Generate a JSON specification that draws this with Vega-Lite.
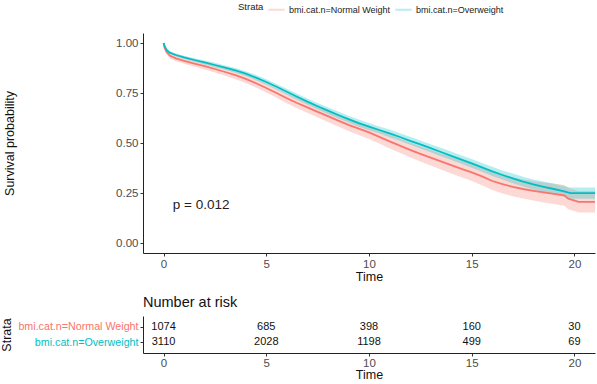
{
  "$schema": "https://vega.github.io/schema/vega-lite/v6.json",
  "padding": 0,
  "background": "white",
  "config": {
    "font": "Liberation Sans",
    "view": {"stroke": null},
    "axis": {
      "grid": false,
      "domainColor": "#222222",
      "domainWidth": 1,
      "tickColor": "#333333",
      "tickSize": 3,
      "labelPadding": 2,
      "labelColor": "#4d4d4d",
      "labelFontSize": 11.5,
      "labelFont": "Liberation Sans",
      "titleFont": "Liberation Sans",
      "titleFontSize": 12.5,
      "titleFontWeight": "normal",
      "titleColor": "#111111"
    }
  },
  "datasets": {
    "km": [
      {"strata": "bmi.cat.n=Normal Weight", "t": 0, "s": 1.0, "lo": 1.0, "hi": 1.0},
      {"strata": "bmi.cat.n=Normal Weight", "t": 0.05, "s": 0.975, "lo": 0.966, "hi": 0.984},
      {"strata": "bmi.cat.n=Normal Weight", "t": 0.15, "s": 0.955, "lo": 0.944, "hi": 0.966},
      {"strata": "bmi.cat.n=Normal Weight", "t": 0.3, "s": 0.937, "lo": 0.924, "hi": 0.95},
      {"strata": "bmi.cat.n=Normal Weight", "t": 0.6, "s": 0.923, "lo": 0.909, "hi": 0.937},
      {"strata": "bmi.cat.n=Normal Weight", "t": 1.0, "s": 0.911, "lo": 0.896, "hi": 0.926},
      {"strata": "bmi.cat.n=Normal Weight", "t": 1.5, "s": 0.897, "lo": 0.881, "hi": 0.913},
      {"strata": "bmi.cat.n=Normal Weight", "t": 2.0, "s": 0.884, "lo": 0.867, "hi": 0.901},
      {"strata": "bmi.cat.n=Normal Weight", "t": 2.5, "s": 0.87, "lo": 0.852, "hi": 0.888},
      {"strata": "bmi.cat.n=Normal Weight", "t": 3.0, "s": 0.855, "lo": 0.836, "hi": 0.874},
      {"strata": "bmi.cat.n=Normal Weight", "t": 3.5, "s": 0.839, "lo": 0.819, "hi": 0.859},
      {"strata": "bmi.cat.n=Normal Weight", "t": 4.0, "s": 0.821, "lo": 0.8, "hi": 0.842},
      {"strata": "bmi.cat.n=Normal Weight", "t": 4.5, "s": 0.799, "lo": 0.777, "hi": 0.821},
      {"strata": "bmi.cat.n=Normal Weight", "t": 5.0, "s": 0.775, "lo": 0.752, "hi": 0.798},
      {"strata": "bmi.cat.n=Normal Weight", "t": 5.5, "s": 0.75, "lo": 0.726, "hi": 0.774},
      {"strata": "bmi.cat.n=Normal Weight", "t": 6.0, "s": 0.724, "lo": 0.699, "hi": 0.749},
      {"strata": "bmi.cat.n=Normal Weight", "t": 6.5, "s": 0.7, "lo": 0.674, "hi": 0.726},
      {"strata": "bmi.cat.n=Normal Weight", "t": 7.0, "s": 0.678, "lo": 0.651, "hi": 0.705},
      {"strata": "bmi.cat.n=Normal Weight", "t": 7.5, "s": 0.656, "lo": 0.628, "hi": 0.684},
      {"strata": "bmi.cat.n=Normal Weight", "t": 8.0, "s": 0.634, "lo": 0.605, "hi": 0.663},
      {"strata": "bmi.cat.n=Normal Weight", "t": 8.5, "s": 0.612, "lo": 0.582, "hi": 0.642},
      {"strata": "bmi.cat.n=Normal Weight", "t": 9.0, "s": 0.591, "lo": 0.56, "hi": 0.622},
      {"strata": "bmi.cat.n=Normal Weight", "t": 9.5, "s": 0.572, "lo": 0.54, "hi": 0.604},
      {"strata": "bmi.cat.n=Normal Weight", "t": 10.0, "s": 0.553, "lo": 0.52, "hi": 0.586},
      {"strata": "bmi.cat.n=Normal Weight", "t": 10.5, "s": 0.531, "lo": 0.497, "hi": 0.565},
      {"strata": "bmi.cat.n=Normal Weight", "t": 11.0, "s": 0.508, "lo": 0.473, "hi": 0.543},
      {"strata": "bmi.cat.n=Normal Weight", "t": 11.5, "s": 0.487, "lo": 0.451, "hi": 0.523},
      {"strata": "bmi.cat.n=Normal Weight", "t": 12.0, "s": 0.466, "lo": 0.429, "hi": 0.503},
      {"strata": "bmi.cat.n=Normal Weight", "t": 12.5, "s": 0.446, "lo": 0.408, "hi": 0.484},
      {"strata": "bmi.cat.n=Normal Weight", "t": 13.0, "s": 0.427, "lo": 0.388, "hi": 0.466},
      {"strata": "bmi.cat.n=Normal Weight", "t": 13.5, "s": 0.408, "lo": 0.368, "hi": 0.448},
      {"strata": "bmi.cat.n=Normal Weight", "t": 14.0, "s": 0.389, "lo": 0.348, "hi": 0.43},
      {"strata": "bmi.cat.n=Normal Weight", "t": 14.5, "s": 0.371, "lo": 0.329, "hi": 0.413},
      {"strata": "bmi.cat.n=Normal Weight", "t": 15.0, "s": 0.353, "lo": 0.31, "hi": 0.396},
      {"strata": "bmi.cat.n=Normal Weight", "t": 15.5, "s": 0.333, "lo": 0.289, "hi": 0.377},
      {"strata": "bmi.cat.n=Normal Weight", "t": 16.0, "s": 0.31, "lo": 0.265, "hi": 0.355},
      {"strata": "bmi.cat.n=Normal Weight", "t": 16.5, "s": 0.294, "lo": 0.248, "hi": 0.34},
      {"strata": "bmi.cat.n=Normal Weight", "t": 17.0, "s": 0.281, "lo": 0.234, "hi": 0.328},
      {"strata": "bmi.cat.n=Normal Weight", "t": 17.5, "s": 0.27, "lo": 0.222, "hi": 0.318},
      {"strata": "bmi.cat.n=Normal Weight", "t": 18.0, "s": 0.261, "lo": 0.212, "hi": 0.31},
      {"strata": "bmi.cat.n=Normal Weight", "t": 18.5, "s": 0.253, "lo": 0.203, "hi": 0.303},
      {"strata": "bmi.cat.n=Normal Weight", "t": 19.0, "s": 0.246, "lo": 0.195, "hi": 0.297},
      {"strata": "bmi.cat.n=Normal Weight", "t": 19.5, "s": 0.238, "lo": 0.186, "hi": 0.29},
      {"strata": "bmi.cat.n=Normal Weight", "t": 19.7, "s": 0.222, "lo": 0.169, "hi": 0.275},
      {"strata": "bmi.cat.n=Normal Weight", "t": 20.2, "s": 0.206, "lo": 0.152, "hi": 0.26},
      {"strata": "bmi.cat.n=Normal Weight", "t": 21.0, "s": 0.206, "lo": 0.152, "hi": 0.26},
      {"strata": "bmi.cat.n=Overweight", "t": 0, "s": 1.0, "lo": 1.0, "hi": 1.0},
      {"strata": "bmi.cat.n=Overweight", "t": 0.05, "s": 0.985, "lo": 0.981, "hi": 0.989},
      {"strata": "bmi.cat.n=Overweight", "t": 0.15, "s": 0.965, "lo": 0.96, "hi": 0.97},
      {"strata": "bmi.cat.n=Overweight", "t": 0.3, "s": 0.952, "lo": 0.946, "hi": 0.958},
      {"strata": "bmi.cat.n=Overweight", "t": 0.6, "s": 0.94, "lo": 0.933, "hi": 0.947},
      {"strata": "bmi.cat.n=Overweight", "t": 1.0, "s": 0.928, "lo": 0.92, "hi": 0.936},
      {"strata": "bmi.cat.n=Overweight", "t": 1.5, "s": 0.915, "lo": 0.906, "hi": 0.924},
      {"strata": "bmi.cat.n=Overweight", "t": 2.0, "s": 0.903, "lo": 0.893, "hi": 0.913},
      {"strata": "bmi.cat.n=Overweight", "t": 2.5, "s": 0.89, "lo": 0.879, "hi": 0.901},
      {"strata": "bmi.cat.n=Overweight", "t": 3.0, "s": 0.877, "lo": 0.866, "hi": 0.888},
      {"strata": "bmi.cat.n=Overweight", "t": 3.5, "s": 0.863, "lo": 0.851, "hi": 0.875},
      {"strata": "bmi.cat.n=Overweight", "t": 4.0, "s": 0.847, "lo": 0.835, "hi": 0.859},
      {"strata": "bmi.cat.n=Overweight", "t": 4.5, "s": 0.827, "lo": 0.814, "hi": 0.84},
      {"strata": "bmi.cat.n=Overweight", "t": 5.0, "s": 0.805, "lo": 0.791, "hi": 0.819},
      {"strata": "bmi.cat.n=Overweight", "t": 5.5, "s": 0.781, "lo": 0.767, "hi": 0.795},
      {"strata": "bmi.cat.n=Overweight", "t": 6.0, "s": 0.756, "lo": 0.741, "hi": 0.771},
      {"strata": "bmi.cat.n=Overweight", "t": 6.5, "s": 0.731, "lo": 0.716, "hi": 0.746},
      {"strata": "bmi.cat.n=Overweight", "t": 7.0, "s": 0.707, "lo": 0.691, "hi": 0.723},
      {"strata": "bmi.cat.n=Overweight", "t": 7.5, "s": 0.684, "lo": 0.668, "hi": 0.7},
      {"strata": "bmi.cat.n=Overweight", "t": 8.0, "s": 0.662, "lo": 0.645, "hi": 0.679},
      {"strata": "bmi.cat.n=Overweight", "t": 8.5, "s": 0.64, "lo": 0.623, "hi": 0.657},
      {"strata": "bmi.cat.n=Overweight", "t": 9.0, "s": 0.619, "lo": 0.602, "hi": 0.636},
      {"strata": "bmi.cat.n=Overweight", "t": 9.5, "s": 0.599, "lo": 0.581, "hi": 0.617},
      {"strata": "bmi.cat.n=Overweight", "t": 10.0, "s": 0.582, "lo": 0.564, "hi": 0.6},
      {"strata": "bmi.cat.n=Overweight", "t": 10.5, "s": 0.565, "lo": 0.547, "hi": 0.583},
      {"strata": "bmi.cat.n=Overweight", "t": 11.0, "s": 0.548, "lo": 0.529, "hi": 0.567},
      {"strata": "bmi.cat.n=Overweight", "t": 11.5, "s": 0.53, "lo": 0.511, "hi": 0.549},
      {"strata": "bmi.cat.n=Overweight", "t": 12.0, "s": 0.511, "lo": 0.491, "hi": 0.531},
      {"strata": "bmi.cat.n=Overweight", "t": 12.5, "s": 0.493, "lo": 0.473, "hi": 0.513},
      {"strata": "bmi.cat.n=Overweight", "t": 13.0, "s": 0.474, "lo": 0.454, "hi": 0.494},
      {"strata": "bmi.cat.n=Overweight", "t": 13.5, "s": 0.455, "lo": 0.434, "hi": 0.476},
      {"strata": "bmi.cat.n=Overweight", "t": 14.0, "s": 0.436, "lo": 0.415, "hi": 0.457},
      {"strata": "bmi.cat.n=Overweight", "t": 14.5, "s": 0.417, "lo": 0.396, "hi": 0.438},
      {"strata": "bmi.cat.n=Overweight", "t": 15.0, "s": 0.398, "lo": 0.376, "hi": 0.42},
      {"strata": "bmi.cat.n=Overweight", "t": 15.5, "s": 0.378, "lo": 0.356, "hi": 0.4},
      {"strata": "bmi.cat.n=Overweight", "t": 16.0, "s": 0.358, "lo": 0.335, "hi": 0.381},
      {"strata": "bmi.cat.n=Overweight", "t": 16.5, "s": 0.34, "lo": 0.317, "hi": 0.363},
      {"strata": "bmi.cat.n=Overweight", "t": 17.0, "s": 0.323, "lo": 0.299, "hi": 0.347},
      {"strata": "bmi.cat.n=Overweight", "t": 17.5, "s": 0.307, "lo": 0.283, "hi": 0.331},
      {"strata": "bmi.cat.n=Overweight", "t": 18.0, "s": 0.293, "lo": 0.268, "hi": 0.318},
      {"strata": "bmi.cat.n=Overweight", "t": 18.5, "s": 0.281, "lo": 0.255, "hi": 0.307},
      {"strata": "bmi.cat.n=Overweight", "t": 19.0, "s": 0.27, "lo": 0.244, "hi": 0.296},
      {"strata": "bmi.cat.n=Overweight", "t": 19.5, "s": 0.258, "lo": 0.231, "hi": 0.285},
      {"strata": "bmi.cat.n=Overweight", "t": 19.8, "s": 0.249, "lo": 0.221, "hi": 0.277},
      {"strata": "bmi.cat.n=Overweight", "t": 21.0, "s": 0.249, "lo": 0.221, "hi": 0.277}
    ],
    "risk": [
      {"strata": "bmi.cat.n=Normal Weight", "t": 0, "n": 1074},
      {"strata": "bmi.cat.n=Normal Weight", "t": 5, "n": 685},
      {"strata": "bmi.cat.n=Normal Weight", "t": 10, "n": 398},
      {"strata": "bmi.cat.n=Normal Weight", "t": 15, "n": 160},
      {"strata": "bmi.cat.n=Normal Weight", "t": 20, "n": 30},
      {"strata": "bmi.cat.n=Overweight", "t": 0, "n": 3110},
      {"strata": "bmi.cat.n=Overweight", "t": 5, "n": 2028},
      {"strata": "bmi.cat.n=Overweight", "t": 10, "n": 1198},
      {"strata": "bmi.cat.n=Overweight", "t": 15, "n": 499},
      {"strata": "bmi.cat.n=Overweight", "t": 20, "n": 69}
    ],
    "pval": [
      {"t": 0.45, "s": 0.19, "label": "p = 0.012"}
    ]
  },
  "spacing": 11,
  "vconcat": [
    {
      "width": 452,
      "height": 220,
      "data": {"name": "km"},
      "layer": [
        {
          "mark": {"type": "area", "opacity": 0.28},
          "encoding": {
            "x": {"field": "t", "type": "quantitative"},
            "y": {"field": "lo", "type": "quantitative"},
            "y2": {"field": "hi"},
            "color": {"field": "strata", "type": "nominal"}
          }
        },
        {
          "mark": {"type": "line", "strokeWidth": 1.8},
          "encoding": {
            "x": {
              "field": "t", "type": "quantitative",
              "scale": {"domain": [-1, 21], "nice": false, "zero": false},
              "axis": {"values": [0, 5, 10, 15, 20], "title": "Time", "titlePadding": 1}
            },
            "y": {
              "field": "s", "type": "quantitative",
              "scale": {"domain": [-0.05, 1.05], "nice": false},
              "axis": {"values": [0, 0.25, 0.5, 0.75, 1], "format": ".2f", "title": "Survival probability", "titleX": -127}
            },
            "color": {
              "field": "strata", "type": "nominal",
              "scale": {"domain": ["bmi.cat.n=Normal Weight", "bmi.cat.n=Overweight"], "range": ["#F8766D", "#00BFC4"]},
              "legend": {
                "title": "Strata",
                "orient": "none",
                "legendX": 95,
                "legendY": -33,
                "direction": "horizontal",
                "titleOrient": "left",
                "titlePadding": 3,
                "titleFontSize": 9.5,
                "titleFontWeight": "normal",
                "titleColor": "#222222",
                "labelFontSize": 9,
                "labelColor": "#222222",
                "symbolType": "stroke",
                "symbolStrokeWidth": 2,
                "symbolSize": 260,
                "columnPadding": 0,
                "labelOffset": 3
              }
            }
          }
        },
        {
          "data": {"name": "pval"},
          "mark": {"type": "text", "align": "left", "baseline": "middle", "fontSize": 13.5, "color": "#222222"},
          "encoding": {
            "x": {"field": "t", "type": "quantitative"},
            "y": {"field": "s", "type": "quantitative"},
            "text": {"field": "label"}
          }
        }
      ]
    },
    {
      "width": 452,
      "height": 37,
      "data": {"name": "risk"},
      "title": {"text": "Number at risk", "anchor": "start", "frame": "group", "fontSize": 14.5, "fontWeight": "normal", "color": "#111111", "offset": 6, "font": "Liberation Sans"},
      "mark": {"type": "text", "fontSize": 11, "color": "#111111", "baseline": "middle"},
      "encoding": {
        "x": {
          "field": "t", "type": "quantitative",
          "scale": {"domain": [-1, 21], "nice": false, "zero": false},
          "axis": {"values": [0, 5, 10, 15, 20], "title": "Time", "titlePadding": 0, "labelPadding": 1}
        },
        "y": {
          "field": "strata", "type": "nominal",
          "sort": ["bmi.cat.n=Normal Weight", "bmi.cat.n=Overweight"],
          "scale": {"padding": 0.7},
          "axis": {
            "title": "Strata",
            "titlePadding": 4,
            "labelFontSize": 10.7,
            "labelColor": {"expr": "datum.value == 'bmi.cat.n=Normal Weight' ? '#F8766D' : '#00BFC4'"}
          }
        },
        "text": {"field": "n"}
      }
    }
  ]
}
